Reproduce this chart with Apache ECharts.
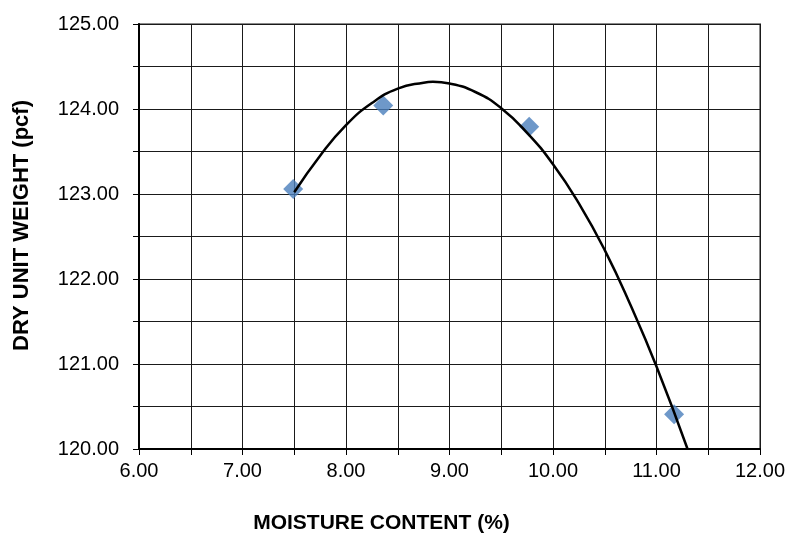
<!DOCTYPE html>
<html>
<head>
<meta charset="utf-8">
<script src="https://cdn.jsdelivr.net/npm/echarts@6/dist/echarts.min.js"></script>
<style>
  html, body { margin: 0; padding: 0; background: #fff; }
  #myChart { width: 789px; height: 533px; }
</style>
</head>
<body>
<div id="myChart"></div>
<script>
// test points
var moisture = [7.49, 8.36, 9.77, 11.17];
var dryWeight = [123.06, 124.04, 123.79, 120.41];

// fitted curve
var curveX = [7.5, 7.75, 8.0, 8.25, 8.5, 8.75, 8.84, 9.0, 9.25, 9.5, 9.75, 10.0, 10.25, 10.5, 10.75, 11.0, 11.3];
var curveY = [123.02, 123.45, 123.81, 124.07, 124.24, 124.31, 124.32, 124.3, 124.2, 124.01, 123.72, 123.35, 122.89, 122.34, 121.69, 120.97, 120.0];

var pts = moisture.map(function (x, i) { return [x, dryWeight[i]]; });
var curve = curveX.map(function (x, i) { return [x, curveY[i]]; });

// only whole numbers get a label
function intLabel(v) {
  return Math.abs(v - Math.round(v)) < 1e-6 ? v.toFixed(2) : '';
}

var myChart = echarts.init(document.getElementById('myChart'));
myChart.setOption({
  animation: false,
  grid: {
    left: 139, right: 29, top: 24, bottom: 84,
    show: true, borderColor: '#8a8a8a', borderWidth: 2,
    outerBoundsMode: 'none'
  },
  xAxis: {
    type: 'value', min: 6, max: 12, interval: 0.5,
    name: 'MOISTURE CONTENT (%)',
    nameLocation: 'middle', nameGap: 64,
    nameTextStyle: {
      fontFamily: 'Liberation Sans', fontSize: 21, fontWeight: 'bold', color: '#000',
      padding: [0, 136, 0, 0]
    },
    axisLine: { show: true, lineStyle: { color: '#000', width: 2 } },
    axisTick: { show: true, length: 6, lineStyle: { color: '#000' } },
    axisLabel: { formatter: intLabel, fontFamily: 'Liberation Sans', fontSize: 20, color: '#000', margin: 12 },
    splitLine: { show: true, lineStyle: { color: '#1a1a1a', width: 1 } }
  },
  yAxis: {
    type: 'value', min: 120, max: 125, interval: 0.5,
    name: 'DRY UNIT WEIGHT (pcf)',
    nameLocation: 'middle', nameGap: 106,
    nameTextStyle: {
      fontFamily: 'Liberation Sans', fontSize: 22, fontWeight: 'bold', color: '#000',
      padding: [0, 0, 0, 22]
    },
    axisLine: { show: true, lineStyle: { color: '#000', width: 2 } },
    axisTick: { show: true, length: 6, lineStyle: { color: '#000' } },
    axisLabel: { formatter: intLabel, fontFamily: 'Liberation Sans', fontSize: 20, color: '#000', margin: 20 },
    splitLine: { show: true, lineStyle: { color: '#1a1a1a', width: 1 } }
  },
  series: [
    {
      name: 'points',
      type: 'scatter',
      data: pts,
      symbol: 'diamond',
      symbolSize: 20,
      itemStyle: { color: '#4a7ebb' },
      z: 2
    },
    {
      name: 'curve',
      type: 'line',
      data: curve,
      showSymbol: false,
      smooth: 0.5,
      lineStyle: { color: '#000', width: 2.5 },
      z: 3
    }
  ]
});
</script>
</body>
</html>
